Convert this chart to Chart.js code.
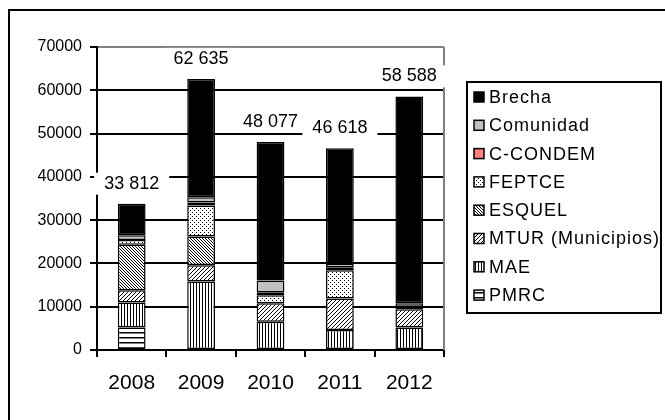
<!DOCTYPE html>
<html>
<head>
<meta charset="utf-8">
<script src="https://cdn.jsdelivr.net/npm/chart.js@4/dist/chart.umd.min.js"></script>
<style>
  html, body { margin: 0; padding: 0; background: #fff; }
</style>
</head>
<body>
<canvas id="myChart" width="665" height="420"></canvas>
<script>
const years = ["2008", "2009", "2010", "2011", "2012"];
// stacked from bottom to top
const pmrc = [5200, 0, 0, 0, 0];
const mae = [5800, 15800, 6500, 4600, 5200];
const mtur = [2800, 3800, 4300, 7300, 4200];
const esquel = [10500, 6600, 0, 0, 0];
const feptce = [1100, 7200, 1850, 6500, 0];
const ccondem = [0, 700, 700, 700, 600];
const comunidad = [1100, 1200, 2700, 900, 800];
const brecha = [7312, 27335, 32027, 26618, 47788];
const yTicks = [0, 10000, 20000, 30000, 40000, 50000, 60000, 70000];

const font = "'Liberation Sans', Arial, sans-serif";

function makePattern(size, draw) {
  const c = document.createElement("canvas");
  c.width = size;
  c.height = size;
  const g = c.getContext("2d");
  g.fillStyle = "#fff";
  g.fillRect(0, 0, size, size);
  g.fillStyle = "#000";
  draw(g, size);
  return g.createPattern(c, "repeat");
}

const horiz = makePattern(5, (g, s) => g.fillRect(0, 2, s, 1.5));
const vert = makePattern(3, (g, s) => g.fillRect(1, 0, 1, s));
const fwdDiag = makePattern(4, (g, s) => {
  for (let i = 0; i < s; i++) g.fillRect(i, s - 1 - i, 1, 1);
});
const backDiag = makePattern(3, (g, s) => {
  for (let i = 0; i < s; i++) g.fillRect(i, i, 1, 1);
});
const dots = makePattern(4, (g) => {
  g.fillRect(0, 0, 1, 1);
  g.fillRect(2, 2, 1, 1);
});

const series = [
  { label: "PMRC", data: pmrc, bg: horiz },
  { label: "MAE", data: mae, bg: vert },
  { label: "MTUR (Municipios)", data: mtur, bg: fwdDiag },
  { label: "ESQUEL", data: esquel, bg: backDiag },
  { label: "FEPTCE", data: feptce, bg: dots },
  { label: "C-CONDEM", data: ccondem, bg: "#FF8080" },
  { label: "Comunidad", data: comunidad, bg: "#C0C0C0" },
  { label: "Brecha", data: brecha, bg: "#000" },
];

function fmt(n) {
  return String(n).replace(/\B(?=(\d{3})+(?!\d))/g, " ");
}

const framePlugin = {
  id: "frame",
  beforeDraw(chart) {
    const ctx = chart.ctx;
    ctx.save();
    ctx.fillStyle = "#fff";
    ctx.fillRect(0, 0, chart.width, chart.height);
    ctx.strokeStyle = "#000";
    ctx.lineWidth = 2;
    ctx.beginPath();
    ctx.moveTo(9, chart.height + 5);
    ctx.lineTo(9, 10);
    ctx.lineTo(chart.width + 5, 10);
    ctx.stroke();
    ctx.restore();
  },
  beforeDatasetsDraw(chart) {
    const a = chart.chartArea;
    const ctx = chart.ctx;
    ctx.save();
    ctx.strokeStyle = "#808080";
    ctx.lineWidth = 2;
    ctx.beginPath();
    ctx.moveTo(a.right, a.top);
    ctx.lineTo(a.right, a.bottom);
    ctx.stroke();
    ctx.restore();
  },
};

const totalsPlugin = {
  id: "totals",
  afterDatasetsDraw(chart) {
    const ctx = chart.ctx;
    const top = chart.getDatasetMeta(series.length - 1).data;
    ctx.save();
    ctx.font = "18px " + font;
    ctx.textAlign = "center";
    ctx.textBaseline = "middle";
    for (let i = 0; i < years.length; i++) {
      let total = 0;
      series.forEach((s) => (total += s.data[i]));
      const txt = fmt(total);
      const x = top[i].x;
      const y = top[i].y - 20;
      const w = ctx.measureText(txt).width + 20;
      ctx.fillStyle = "#fff";
      ctx.fillRect(x - w / 2, y - 11, w, 22);
      ctx.fillStyle = "#000";
      ctx.fillText(txt, x, y);
    }
    ctx.restore();
  },
};

const legendPlugin = {
  id: "boxLegend",
  afterDraw(chart) {
    const ctx = chart.ctx;
    ctx.save();
    ctx.lineWidth = 2;
    ctx.strokeStyle = "#000";
    ctx.strokeRect(467, 82, 194, 231);
    ctx.font = "18px " + font;
    ctx.letterSpacing = "1px";
    ctx.textBaseline = "middle";
    const items = series.slice().reverse();
    items.forEach((s, k) => {
      const y = 97 + k * 28.3;
      ctx.fillStyle = s.bg;
      ctx.fillRect(474, y - 5, 10, 10);
      ctx.lineWidth = 1.5;
      ctx.strokeRect(474, y - 5, 10, 10);
      ctx.fillStyle = "#000";
      ctx.fillText(s.label, 489, y + 1);
    });
    ctx.restore();
  },
};

const chart = new Chart(document.getElementById("myChart"), {
  type: "bar",
  data: {
    labels: years,
    datasets: series.map((s) => ({
      label: s.label,
      data: s.data,
      backgroundColor: s.bg,
      borderColor: "#000",
      borderWidth: 1.5,
      borderSkipped: false,
      barPercentage: 0.4,
      categoryPercentage: 1,
    })),
  },
  options: {
    responsive: false,
    animation: false,
    devicePixelRatio: 1,
    layout: { padding: { top: 47, right: 221, left: 0, bottom: 0 } },
    plugins: {
      legend: { display: false },
      tooltip: { enabled: false },
    },
    scales: {
      x: {
        stacked: true,
        grid: {
          drawOnChartArea: false,
          drawTicks: true,
          tickLength: 7,
          color: "#000",
          lineWidth: 2,
        },
        border: { color: "#000", width: 2 },
        ticks: { color: "#000", font: { family: font, size: 21 }, padding: 14 },
        afterFit(s) {
          s.height = 70;
        },
      },
      y: {
        stacked: true,
        min: 0,
        max: 70000,
        afterBuildTicks(s) {
          s.ticks = yTicks.map((v) => ({ value: v }));
        },
        ticks: {
          color: "#000",
          font: { family: font, size: 16 },
          padding: 8,
          callback: (v) => String(v),
        },
        grid: {
          color: (c) => (c.tick && c.tick.value === 70000 ? "#808080" : "#000"),
          tickColor: "#000",
          lineWidth: 2,
          tickLength: 7,
        },
        border: { color: "#000", width: 2 },
        afterFit(s) {
          s.width = 97;
        },
      },
    },
  },
  plugins: [framePlugin, totalsPlugin, legendPlugin],
});
</script>
</body>
</html>
